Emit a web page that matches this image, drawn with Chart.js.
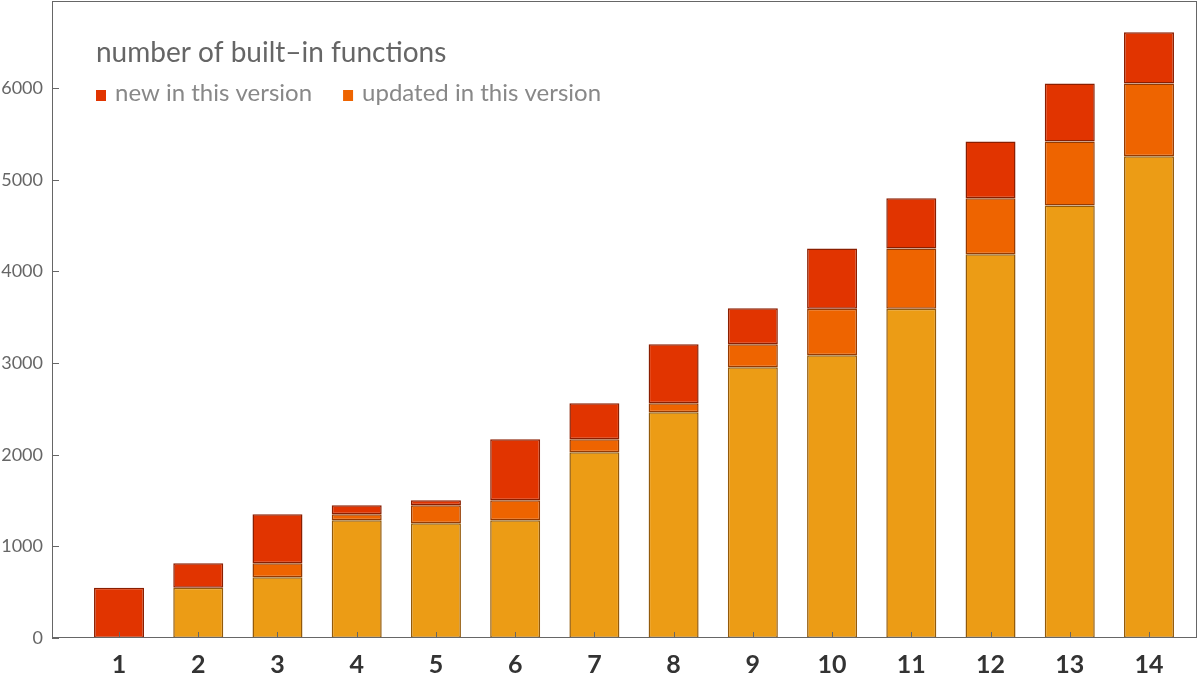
<!DOCTYPE html>
<html>
<head>
<meta charset="utf-8">
<script src="https://cdn.jsdelivr.net/npm/chart.js@4"></script>
<style>
  html, body { margin: 0; padding: 0; background: #fff; }
  #wrap { width: 1198px; height: 676px; }
</style>
</head>
<body>
<div id="wrap"><canvas id="builtins"></canvas></div>
<script>
// version numbers and function counts
const versions = [1, 2, 3, 4, 5, 6, 7, 8, 9, 10, 11, 12, 13, 14];
const baseCounts = [null, 549, 662, 1284, 1251, 1284, 2026, 2462, 2953, 3084, 3593, 4186, 4720, 5255];
const updatedCounts = [null, null, 153, 65, 197, 218, 142, 98, 251, 509, 658, 611, 698, 796];
const newCounts = [549, 266, 534, 99, 54, 666, 392, 644, 393, 658, 546, 621, 633, 557];
const yTicks = [0, 1000, 2000, 3000, 4000, 5000, 6000];

const titleText = "number of built\u2013in functions";
const FONT = "Lato, 'Open Sans', sans-serif";

function toPoints(arr) {
  return versions.map((v, i) => ({ x: v, y: arr[i] }));
}

// frame, inward ticks, title and legend drawn inside the plot
const framePlugin = {
  id: "frame",
  afterDatasetsDraw(chart) {
    const { ctx, chartArea: a, scales } = chart;
    ctx.save();
    ctx.strokeStyle = "#666";
    ctx.lineWidth = 1;
    ctx.strokeRect(a.left + 0.5, a.top + 0.5, a.right - a.left - 1, a.bottom - a.top - 1);
    ctx.beginPath();
    yTicks.forEach(v => {
      const y = Math.round(scales.y.getPixelForValue(v)) + 0.5;
      ctx.moveTo(a.left, y);
      ctx.lineTo(a.left + 7, y);
    });
    versions.forEach(v => {
      const x = Math.round(scales.x.getPixelForValue(v)) + 0.5;
      ctx.moveTo(x, a.bottom);
      ctx.lineTo(x, a.bottom - 6);
    });
    ctx.stroke();

    // title
    const left = a.left + 44;
    ctx.fillStyle = "#666";
    ctx.font = "28px " + FONT;
    ctx.textBaseline = "alphabetic";
    ctx.fillText(titleText, left, 62);

    // legend: new, then updated
    ctx.font = "24px " + FONT;
    let x = left;
    [2, 1].forEach(idx => {
      const ds = chart.data.datasets[idx];
      ctx.fillStyle = ds.backgroundColor;
      ctx.fillRect(x, 90, 10, 11);
      ctx.fillStyle = "#888";
      ctx.fillText(ds.label, x + 19, 101);
      x += 19 + ctx.measureText(ds.label).width + 31;
    });
    ctx.restore();
  }
};

const ctx = document.getElementById("builtins").getContext("2d");

new Chart(ctx, {
  type: "bar",
  data: {
    datasets: [
      {
        label: "existing",
        data: toPoints(baseCounts),
        backgroundColor: "#EC9C15",
        borderColor: "#935A0A",
      },
      {
        label: "updated in this version",
        data: toPoints(updatedCounts),
        backgroundColor: "#EE6400",
        borderColor: "#953A00",
      },
      {
        label: "new in this version",
        data: toPoints(newCounts),
        backgroundColor: "#E13400",
        borderColor: "#8A1E00",
      },
    ],
  },
  options: {
    responsive: true,
    maintainAspectRatio: false,
    animation: false,
    datasets: {
      bar: {
        borderWidth: 1.5,
        borderSkipped: false,
        barPercentage: 0.631,
        categoryPercentage: 1,
      },
    },
    layout: {
      padding: { top: 1, right: 1, left: 0, bottom: 0 },
    },
    plugins: {
      legend: { display: false },
      tooltip: { enabled: false },
    },
    scales: {
      x: {
        type: "linear",
        stacked: true,
        offset: false,
        min: 0.154,
        max: 14.606,
        grid: { display: false, drawTicks: false, offset: false },
        border: { display: false },
        afterBuildTicks(scale) {
          scale.ticks = versions.map(v => ({ value: v }));
        },
        afterFit(scale) {
          scale.height = 38;
          scale.paddingLeft = 0;
          scale.paddingRight = 0;
        },
        ticks: {
          padding: 12,
          color: "#333",
          font: { family: FONT, size: 25, weight: "bold" },
          callback: v => String(v),
        },
      },
      y: {
        stacked: true,
        min: 0,
        max: 6950,
        grid: { display: false, drawTicks: false },
        border: { display: false },
        afterBuildTicks(scale) {
          scale.ticks = yTicks.map(v => ({ value: v }));
        },
        afterFit(scale) {
          scale.width = 52;
          scale.paddingTop = 0;
          scale.paddingBottom = 0;
        },
        ticks: {
          padding: 9,
          color: "#666",
          font: { family: FONT, size: 18 },
          callback: v => String(v),
        },
      },
    },
  },
  plugins: [framePlugin],
});
</script>
</body>
</html>
